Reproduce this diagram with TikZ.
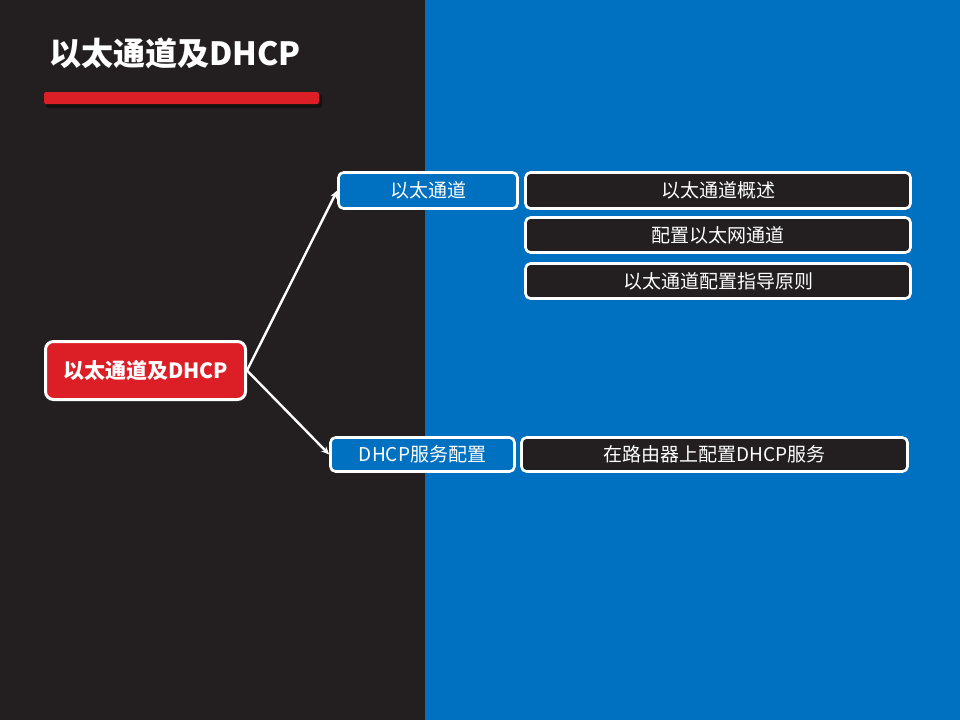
\documentclass[tikz,border=0pt]{standalone}
\usepackage{fontspec}
\setmainfont{Noto Sans CJK SC}
\usetikzlibrary{arrows.meta}
\definecolor{darkbg}{HTML}{231F20}
\definecolor{bluebg}{HTML}{0070C0}
\definecolor{redc}{HTML}{DC1E26}
\tikzset{
  box/.style={draw=white, line width=2.6pt, rounded corners=5pt, text=white, inner sep=0pt, font=\fontsize{19}{21}\selectfont},
  bluebox/.style={box, fill=bluebg},
  darkbox/.style={box, fill=darkbg},
  arr/.style={draw=white, line width=2.4pt, -{Stealth[length=8pt,width=7pt]}},
}
\begin{document}
\begin{tikzpicture}[x=1pt,y=-1pt]
\useasboundingbox (0,0) rectangle (960,720);
\fill[darkbg] (0,0) rectangle (425,720);
\fill[bluebg] (425,0) rectangle (960,720);
% title
\node[anchor=west, text=white, font=\fontsize{32}{36}\selectfont\bfseries, inner sep=0pt] (title) at (49,53) {以太通道及DHCP};
% red bar with shadow
\fill[black, opacity=0.45, rounded corners=2pt] (46,95) rectangle (322,108);
\fill[redc, rounded corners=2pt] (44,92) rectangle (319,104);
% main node
\node[box, fill=redc, line width=3pt, rounded corners=8pt, minimum width=200pt, minimum height=58pt, font=\fontsize{21}{23}\selectfont\bfseries] (main) at (145.5,370.5) {以太通道及DHCP};
% level 1
\node[bluebox, minimum width=179pt, minimum height=36pt] (n1) at (428,190.5) {以太通道};
\node[bluebox, minimum width=184pt, minimum height=34pt] (n2) at (422.5,454.5) {DHCP服务配置};
% level 2
\node[darkbox, minimum width=385pt, minimum height=36pt] (r1) at (718,190.5) {以太通道概述};
\node[darkbox, minimum width=385pt, minimum height=35pt] (r2) at (718,235) {配置以太网通道};
\node[darkbox, minimum width=385pt, minimum height=35pt] (r3) at (718,281) {以太通道配置指导原则};
\node[darkbox, minimum width=386pt, minimum height=34pt] (r4) at (714.5,454.5) {在路由器上配置DHCP服务};
% arrows
\draw[arr] (main.east) -- (n1.west);
\draw[arr] (main.east) -- (n2.west);
\end{tikzpicture}
\end{document}
